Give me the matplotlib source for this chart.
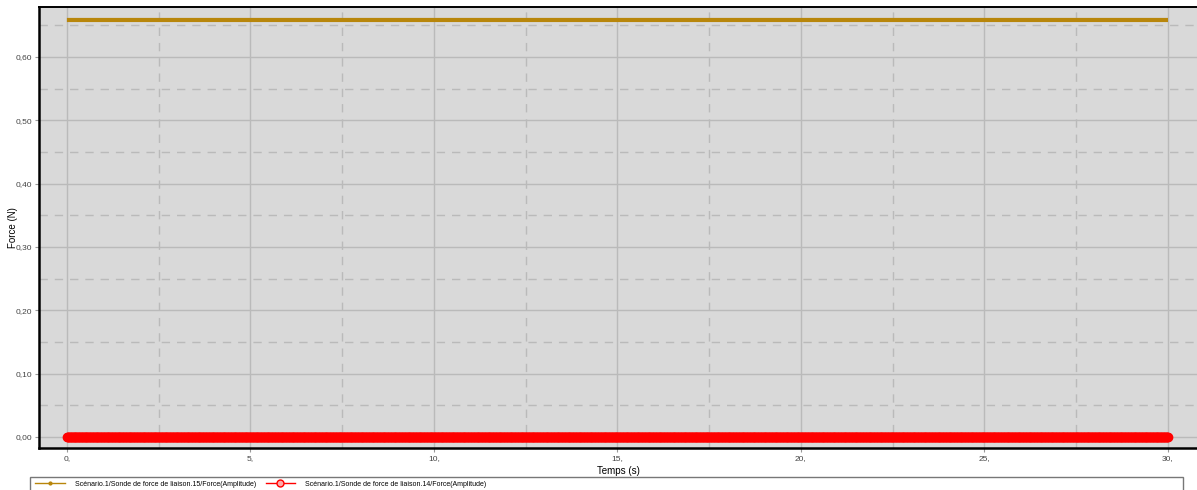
import numpy as np
import matplotlib.pyplot as plt
from matplotlib.lines import Line2D
from matplotlib.patches import Rectangle
from matplotlib.ticker import MultipleLocator, FuncFormatter

plt.rcParams['font.family'] = ['Liberation Sans', 'DejaVu Sans']

# sampled time base and probe amplitudes
temps = np.arange(0, 30.001, 0.02)
force_15 = np.full(temps.shape, 0.6585)
force_14 = np.full(temps.shape, 0.0)

label_15 = 'Scénario.1/Sonde de force de liaison.15/Force(Amplitude)'
label_14 = 'Scénario.1/Sonde de force de liaison.14/Force(Amplitude)'

orange = '#b8860b'
red = '#ff0000'


def main():
    fig = plt.figure(figsize=(11.97, 4.90), dpi=100)
    ax = fig.add_axes([39 / 1197, 42 / 490, 1 - 39 / 1197, 441 / 490])
    ax.set_facecolor('#d9d9d9')

    ax.plot(temps, force_15, color=orange, linewidth=3, solid_capstyle='butt', zorder=3)
    ax.plot(temps, force_14, color=red, linewidth=1, marker='o', markersize=6,
            markerfacecolor=red, markeredgecolor=red, zorder=3)

    ax.set_xlim(-0.76, 30.79)
    ax.set_ylim(-0.0174, 0.679)
    ax.xaxis.set_major_locator(MultipleLocator(5))
    ax.xaxis.set_minor_locator(MultipleLocator(2.5))
    ax.yaxis.set_major_locator(MultipleLocator(0.1))
    ax.yaxis.set_minor_locator(MultipleLocator(0.05))
    ax.xaxis.set_major_formatter(FuncFormatter(lambda v, p: '%d,' % round(v)))
    ax.yaxis.set_major_formatter(FuncFormatter(lambda v, p: ('%.2f' % v).replace('.', ',')))

    ax.grid(True, which='major', color='#bababa', linestyle='-', linewidth=1)
    ax.grid(True, which='minor', color='#bababa', linestyle=(0, (6, 5)), linewidth=1)
    ax.set_axisbelow(True)

    ax.tick_params(axis='both', which='major', labelsize=6, length=3, width=0.8,
                   color='#999999', labelcolor='#444444', pad=2)
    ax.tick_params(axis='both', which='minor', length=0)

    for side in ['left', 'bottom']:
        ax.spines[side].set_linewidth(1.8)
        ax.spines[side].set_color('black')
    ax.spines['top'].set_linewidth(1.4)
    ax.spines['right'].set_visible(False)

    ax.set_xlabel('Temps (s)', fontsize=7, labelpad=3)
    ax.set_ylabel('Force (N)', fontsize=7)
    ax.yaxis.set_label_coords(-0.018, 0.5)

    # legend strip at the bottom
    fig.patches.append(Rectangle((30 / 1197, -0.01), 1153 / 1197, 1 - 477 / 490 + 0.01,
                                 transform=fig.transFigure, facecolor='white',
                                 edgecolor='#777777', linewidth=1))
    handles = [
        Line2D([], [], color=orange, linewidth=1, marker='o', markersize=2),
        Line2D([], [], color=red, linewidth=1, marker='o', markersize=5,
               markerfacecolor='#ffaaaa', markeredgecolor=red),
    ]
    fig.legend(handles, [label_15, label_14], loc='center left',
               bbox_to_anchor=(35 / 1197, 1 - 484 / 490), ncol=2, frameon=False,
               fontsize=5, handlelength=4.3, columnspacing=1.4, handletextpad=1.4,
               borderpad=0, borderaxespad=0)

    fig.savefig('out.png', dpi=100)


if __name__ == '__main__':
    main()
